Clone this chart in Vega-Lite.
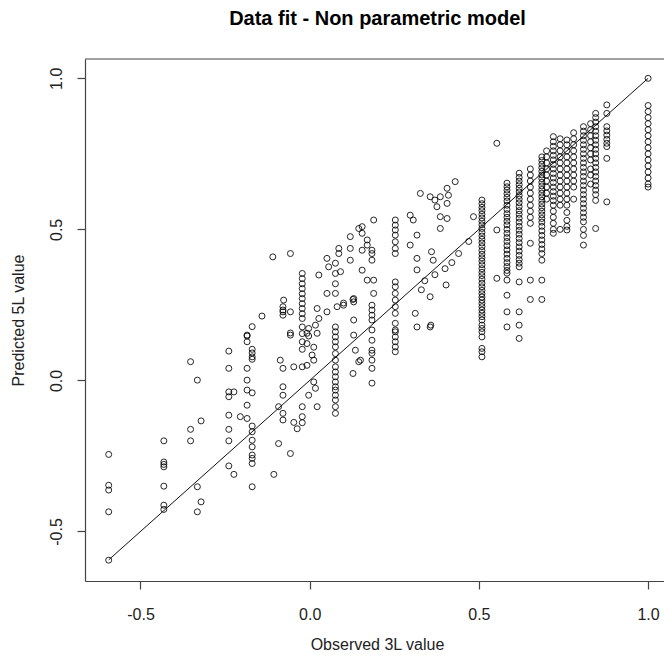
{
"$schema":"https://vega.github.io/schema/vega-lite/v6.json",
"autosize":{"type":"none"},
"padding":{"left":85,"top":59,"right":0,"bottom":80},
"width":579,"height":522,
"background":"white",
"title":{"text":"Data fit - Non parametric model","font":"Liberation Sans","fontSize":20,"fontWeight":"bold","color":"#000","anchor":"middle","frame":"group","baseline":"middle","offset":12,"dx":3,"dy":-7},
"config":{"view":{"stroke":null},"axis":{"grid":false,"domainColor":"#444","tickColor":"#444","domainWidth":1.2,"tickWidth":1.2,"labelFont":"Liberation Sans","titleFont":"Liberation Sans","labelFontSize":16,"titleFontSize":16,"labelColor":"#222","titleColor":"#222","titleFontWeight":"normal","tickSize":8}},
"datasets":{
"pts":[
{"x":-0.594,"y":-0.245},{"x":-0.594,"y":-0.347},{"x":-0.594,"y":-0.363},{"x":-0.594,"y":-0.435},{"x":-0.594,"y":-0.595},
{"x":-0.431,"y":-0.2},{"x":-0.431,"y":-0.27},{"x":-0.431,"y":-0.278},{"x":-0.431,"y":-0.286},{"x":-0.431,"y":-0.35},{"x":-0.431,"y":-0.413},{"x":-0.431,"y":-0.427},
{"x":-0.352,"y":0.062},{"x":-0.352,"y":-0.162},{"x":-0.352,"y":-0.2},
{"x":-0.332,"y":0.001},{"x":-0.332,"y":-0.352},{"x":-0.332,"y":-0.435},
{"x":-0.321,"y":-0.134},{"x":-0.321,"y":-0.402},
{"x":-0.239,"y":0.097},{"x":-0.239,"y":0.04},{"x":-0.239,"y":-0.038},{"x":-0.239,"y":-0.054},{"x":-0.239,"y":-0.115},{"x":-0.239,"y":-0.162},{"x":-0.239,"y":-0.2},{"x":-0.239,"y":-0.283},
{"x":-0.224,"y":-0.038},{"x":-0.224,"y":-0.311},
{"x":-0.205,"y":-0.12},
{"x":-0.185,"y":0.15},{"x":-0.185,"y":0.128},{"x":-0.185,"y":0.147},{"x":-0.185,"y":0.001},{"x":-0.185,"y":-0.032},{"x":-0.185,"y":-0.082},{"x":-0.185,"y":-0.126},{"x":-0.185,"y":0.04},
{"x":-0.17,"y":0.178},{"x":-0.17,"y":0.103},{"x":-0.17,"y":0.091},{"x":-0.17,"y":0.078},{"x":-0.17,"y":0.07},{"x":-0.17,"y":-0.041},{"x":-0.17,"y":-0.151},{"x":-0.17,"y":-0.17},{"x":-0.17,"y":-0.198},{"x":-0.17,"y":-0.22},{"x":-0.17,"y":-0.247},{"x":-0.17,"y":-0.258},{"x":-0.17,"y":-0.275},{"x":-0.17,"y":-0.352},
{"x":-0.141,"y":0.213},
{"x":-0.106,"y":-0.311},{"x":-0.092,"y":-0.209},{"x":-0.092,"y":-0.087},
{"x":-0.057,"y":-0.242},{"x":-0.057,"y":0.42},{"x":-0.057,"y":0.157},{"x":-0.057,"y":0.15},{"x":-0.057,"y":0.227},
{"x":-0.109,"y":0.409},{"x":-0.087,"y":0.067},
{"x":-0.079,"y":0.244},{"x":-0.079,"y":0.227},{"x":-0.079,"y":0.216},{"x":-0.077,"y":0.266},{"x":-0.079,"y":0.233},{"x":-0.079,"y":0.04},{"x":-0.079,"y":-0.021},{"x":-0.079,"y":-0.049},{"x":-0.079,"y":-0.109},{"x":-0.079,"y":-0.131},
{"x":-0.047,"y":0.045},{"x":-0.047,"y":-0.139},{"x":-0.037,"y":-0.16},
{"x":-0.022,"y":0.354},{"x":-0.022,"y":0.337},{"x":-0.022,"y":0.32},{"x":-0.022,"y":0.304},{"x":-0.022,"y":0.287},{"x":-0.022,"y":0.271},{"x":-0.022,"y":0.254},{"x":-0.022,"y":0.238},{"x":-0.022,"y":0.221},{"x":-0.022,"y":0.205},{"x":-0.022,"y":0.177},{"x":-0.022,"y":0.155},{"x":-0.022,"y":0.128},{"x":-0.022,"y":0.103},{"x":-0.022,"y":0.045},{"x":-0.022,"y":-0.087},{"x":-0.022,"y":-0.12},{"x":-0.022,"y":-0.14},
{"x":-0.008,"y":0.156},{"x":-0.008,"y":0.122},{"x":-0.008,"y":0.05},
{"x":-0.003,"y":0.172},{"x":-0.003,"y":-0.049},{"x":-0.003,"y":0.147},
{"x":0.007,"y":0.084},{"x":0.012,"y":0.11},{"x":0.012,"y":0.067},{"x":0.012,"y":-0.005},
{"x":0.017,"y":0.183},{"x":0.017,"y":-0.026},
{"x":0.022,"y":0.156},{"x":0.022,"y":-0.087},{"x":0.022,"y":0.238},
{"x":0.027,"y":0.205},{"x":0.027,"y":0.349},
{"x":0.051,"y":0.227},{"x":0.051,"y":0.288},{"x":0.051,"y":0.404},{"x":0.056,"y":0.376},
{"x":0.076,"y":0.177},{"x":0.076,"y":0.161},{"x":0.076,"y":0.144},{"x":0.076,"y":0.128},{"x":0.076,"y":0.111},{"x":0.076,"y":0.089},{"x":0.076,"y":0.067},{"x":0.076,"y":0.045},{"x":0.076,"y":0.028},{"x":0.076,"y":0.012},{"x":0.076,"y":-0.005},{"x":0.076,"y":-0.021},{"x":0.076,"y":-0.032},{"x":0.076,"y":-0.049},{"x":0.076,"y":-0.065},{"x":0.076,"y":-0.087},{"x":0.076,"y":-0.109},{"x":0.076,"y":0.388},{"x":0.076,"y":0.354},{"x":0.076,"y":0.32},{"x":0.076,"y":0.288},
{"x":0.081,"y":0.244},{"x":0.086,"y":0.437},{"x":0.086,"y":0.42},{"x":0.091,"y":0.36},
{"x":0.1,"y":0.249},{"x":0.1,"y":0.256},
{"x":0.12,"y":0.476},{"x":0.12,"y":0.437},{"x":0.12,"y":0.398},
{"x":0.128,"y":0.268},{"x":0.128,"y":0.023},
{"x":0.13,"y":0.26},{"x":0.13,"y":0.2},{"x":0.13,"y":0.15},{"x":0.13,"y":0.271},
{"x":0.135,"y":0.1},{"x":0.145,"y":0.062},{"x":0.145,"y":0.503},{"x":0.15,"y":0.067},
{"x":0.155,"y":0.509},{"x":0.155,"y":0.487},{"x":0.155,"y":0.431},{"x":0.155,"y":0.365},
{"x":0.17,"y":0.465},{"x":0.17,"y":0.448},{"x":0.17,"y":0.332},
{"x":0.184,"y":0.249},{"x":0.184,"y":0.233},{"x":0.184,"y":0.216},{"x":0.184,"y":0.2},{"x":0.184,"y":0.167},{"x":0.184,"y":0.133},{"x":0.184,"y":0.1},{"x":0.184,"y":0.09},{"x":0.184,"y":0.067},{"x":0.184,"y":0.04},{"x":0.184,"y":-0.009},{"x":0.184,"y":0.42},{"x":0.184,"y":0.431},{"x":0.184,"y":0.398},
{"x":0.189,"y":0.531},{"x":0.189,"y":0.332},{"x":0.189,"y":0.288},
{"x":0.253,"y":0.531},{"x":0.253,"y":0.514},{"x":0.253,"y":0.498},{"x":0.253,"y":0.481},{"x":0.253,"y":0.459},{"x":0.253,"y":0.437},{"x":0.253,"y":0.42},{"x":0.253,"y":0.326},{"x":0.253,"y":0.31},{"x":0.253,"y":0.288},{"x":0.253,"y":0.266},{"x":0.253,"y":0.244},{"x":0.253,"y":0.222},{"x":0.253,"y":0.189},{"x":0.253,"y":0.167},{"x":0.253,"y":0.144},{"x":0.253,"y":0.161},{"x":0.253,"y":0.128},{"x":0.253,"y":0.111},{"x":0.253,"y":0.095},
{"x":0.297,"y":0.547},{"x":0.297,"y":0.448},{"x":0.306,"y":0.531},{"x":0.312,"y":0.222},
{"x":0.317,"y":0.481},{"x":0.317,"y":0.404},{"x":0.317,"y":0.366},{"x":0.317,"y":0.177},
{"x":0.327,"y":0.619},{"x":0.33,"y":0.3},{"x":0.34,"y":0.33},
{"x":0.356,"y":0.608},{"x":0.356,"y":0.277},{"x":0.356,"y":0.177},{"x":0.358,"y":0.183},
{"x":0.36,"y":0.426},{"x":0.365,"y":0.398},{"x":0.37,"y":0.597},{"x":0.376,"y":0.575},{"x":0.37,"y":0.35},
{"x":0.386,"y":0.608},{"x":0.386,"y":0.542},{"x":0.386,"y":0.503},
{"x":0.4,"y":0.37},{"x":0.403,"y":0.316},
{"x":0.406,"y":0.636},{"x":0.406,"y":0.586},{"x":0.406,"y":0.536},{"x":0.41,"y":0.613},
{"x":0.42,"y":0.39},{"x":0.43,"y":0.658},{"x":0.44,"y":0.42},{"x":0.47,"y":0.46},{"x":0.484,"y":0.542},
{"x":0.509,"y":0.597},{"x":0.509,"y":0.585},{"x":0.509,"y":0.573},{"x":0.509,"y":0.562},{"x":0.509,"y":0.55},{"x":0.509,"y":0.538},{"x":0.509,"y":0.527},{"x":0.509,"y":0.515},{"x":0.509,"y":0.503},{"x":0.509,"y":0.49},{"x":0.509,"y":0.478},{"x":0.509,"y":0.467},{"x":0.509,"y":0.455},{"x":0.509,"y":0.443},{"x":0.509,"y":0.43},{"x":0.509,"y":0.418},{"x":0.509,"y":0.406},{"x":0.509,"y":0.395},{"x":0.509,"y":0.383},{"x":0.509,"y":0.37},{"x":0.509,"y":0.358},{"x":0.509,"y":0.347},{"x":0.509,"y":0.335},{"x":0.509,"y":0.322},{"x":0.509,"y":0.31},{"x":0.509,"y":0.298},{"x":0.509,"y":0.287},{"x":0.509,"y":0.276},{"x":0.509,"y":0.266},{"x":0.509,"y":0.255},{"x":0.509,"y":0.244},{"x":0.509,"y":0.233},{"x":0.509,"y":0.222},{"x":0.509,"y":0.211},{"x":0.509,"y":0.2},{"x":0.509,"y":0.183},{"x":0.509,"y":0.172},{"x":0.509,"y":0.161},{"x":0.509,"y":0.144},{"x":0.509,"y":0.106},{"x":0.509,"y":0.095},{"x":0.509,"y":0.078},
{"x":0.553,"y":0.785},{"x":0.553,"y":0.498},{"x":0.553,"y":0.338},
{"x":0.583,"y":0.653},{"x":0.583,"y":0.641},{"x":0.583,"y":0.63},{"x":0.583,"y":0.618},{"x":0.583,"y":0.606},{"x":0.583,"y":0.594},{"x":0.583,"y":0.58},{"x":0.583,"y":0.566},{"x":0.583,"y":0.552},{"x":0.583,"y":0.54},{"x":0.583,"y":0.527},{"x":0.583,"y":0.515},{"x":0.583,"y":0.5},{"x":0.583,"y":0.487},{"x":0.583,"y":0.473},{"x":0.583,"y":0.46},{"x":0.583,"y":0.446},{"x":0.583,"y":0.432},{"x":0.583,"y":0.418},{"x":0.583,"y":0.404},{"x":0.583,"y":0.39},{"x":0.583,"y":0.377},{"x":0.583,"y":0.364},{"x":0.583,"y":0.355},{"x":0.583,"y":0.332},{"x":0.583,"y":0.282},{"x":0.583,"y":0.227},{"x":0.583,"y":0.177},
{"x":0.619,"y":0.686},{"x":0.619,"y":0.672},{"x":0.619,"y":0.66},{"x":0.619,"y":0.648},{"x":0.619,"y":0.636},{"x":0.619,"y":0.624},{"x":0.619,"y":0.612},{"x":0.619,"y":0.6},{"x":0.619,"y":0.588},{"x":0.619,"y":0.575},{"x":0.619,"y":0.562},{"x":0.619,"y":0.55},{"x":0.619,"y":0.537},{"x":0.619,"y":0.524},{"x":0.619,"y":0.51},{"x":0.619,"y":0.497},{"x":0.619,"y":0.484},{"x":0.619,"y":0.47},{"x":0.619,"y":0.456},{"x":0.619,"y":0.442},{"x":0.619,"y":0.428},{"x":0.619,"y":0.414},{"x":0.619,"y":0.4},{"x":0.619,"y":0.388},{"x":0.619,"y":0.376},{"x":0.619,"y":0.326},{"x":0.619,"y":0.227},{"x":0.619,"y":0.183},{"x":0.619,"y":0.139},
{"x":0.652,"y":0.454},{"x":0.652,"y":0.332},{"x":0.652,"y":0.268},{"x":0.652,"y":0.7},{"x":0.652,"y":0.68},{"x":0.652,"y":0.66},{"x":0.652,"y":0.64},{"x":0.652,"y":0.62},{"x":0.652,"y":0.6},{"x":0.652,"y":0.58},{"x":0.652,"y":0.56},{"x":0.652,"y":0.54},{"x":0.652,"y":0.52},
{"x":0.686,"y":0.74},{"x":0.686,"y":0.728},{"x":0.686,"y":0.716},{"x":0.686,"y":0.704},{"x":0.686,"y":0.692},{"x":0.686,"y":0.68},{"x":0.686,"y":0.668},{"x":0.686,"y":0.656},{"x":0.686,"y":0.644},{"x":0.686,"y":0.632},{"x":0.686,"y":0.62},{"x":0.686,"y":0.608},{"x":0.686,"y":0.596},{"x":0.686,"y":0.584},{"x":0.686,"y":0.572},{"x":0.686,"y":0.56},{"x":0.686,"y":0.548},{"x":0.686,"y":0.536},{"x":0.686,"y":0.524},{"x":0.686,"y":0.51},{"x":0.686,"y":0.495},{"x":0.686,"y":0.48},{"x":0.686,"y":0.465},{"x":0.686,"y":0.45},{"x":0.686,"y":0.435},{"x":0.686,"y":0.42},{"x":0.686,"y":0.398},{"x":0.686,"y":0.332},{"x":0.686,"y":0.268},
{"x":0.7,"y":0.76},{"x":0.7,"y":0.74},{"x":0.7,"y":0.72},{"x":0.7,"y":0.7},{"x":0.7,"y":0.68},{"x":0.7,"y":0.66},{"x":0.7,"y":0.64},{"x":0.7,"y":0.62},{"x":0.7,"y":0.6},
{"x":0.72,"y":0.807},{"x":0.72,"y":0.79},{"x":0.72,"y":0.775},{"x":0.72,"y":0.76},{"x":0.72,"y":0.745},{"x":0.72,"y":0.73},{"x":0.72,"y":0.715},{"x":0.72,"y":0.7},{"x":0.72,"y":0.685},{"x":0.72,"y":0.67},{"x":0.72,"y":0.655},{"x":0.72,"y":0.64},{"x":0.72,"y":0.625},{"x":0.72,"y":0.61},{"x":0.72,"y":0.595},{"x":0.72,"y":0.58},{"x":0.72,"y":0.56},{"x":0.72,"y":0.54},{"x":0.72,"y":0.52},{"x":0.72,"y":0.5},{"x":0.72,"y":0.487},
{"x":0.74,"y":0.8},{"x":0.74,"y":0.78},{"x":0.74,"y":0.76},{"x":0.74,"y":0.74},{"x":0.74,"y":0.72},{"x":0.74,"y":0.7},{"x":0.74,"y":0.68},{"x":0.74,"y":0.66},{"x":0.74,"y":0.64},{"x":0.74,"y":0.62},{"x":0.74,"y":0.6},{"x":0.74,"y":0.58},{"x":0.74,"y":0.5},
{"x":0.76,"y":0.796},{"x":0.76,"y":0.78},{"x":0.76,"y":0.76},{"x":0.76,"y":0.74},{"x":0.76,"y":0.72},{"x":0.76,"y":0.7},{"x":0.76,"y":0.68},{"x":0.76,"y":0.66},{"x":0.76,"y":0.64},{"x":0.76,"y":0.62},{"x":0.76,"y":0.6},{"x":0.76,"y":0.58},{"x":0.76,"y":0.556},{"x":0.76,"y":0.53},{"x":0.76,"y":0.51},{"x":0.76,"y":0.498},
{"x":0.78,"y":0.82},{"x":0.78,"y":0.8},{"x":0.78,"y":0.78},{"x":0.78,"y":0.76},{"x":0.78,"y":0.74},{"x":0.78,"y":0.72},{"x":0.78,"y":0.7},{"x":0.78,"y":0.68},{"x":0.78,"y":0.66},{"x":0.78,"y":0.64},{"x":0.78,"y":0.6},
{"x":0.809,"y":0.84},{"x":0.809,"y":0.825},{"x":0.809,"y":0.81},{"x":0.809,"y":0.795},{"x":0.809,"y":0.78},{"x":0.809,"y":0.765},{"x":0.809,"y":0.75},{"x":0.809,"y":0.735},{"x":0.809,"y":0.72},{"x":0.809,"y":0.705},{"x":0.809,"y":0.69},{"x":0.809,"y":0.675},{"x":0.809,"y":0.66},{"x":0.809,"y":0.645},{"x":0.809,"y":0.63},{"x":0.809,"y":0.615},{"x":0.809,"y":0.6},{"x":0.809,"y":0.585},{"x":0.809,"y":0.57},{"x":0.809,"y":0.555},{"x":0.809,"y":0.54},{"x":0.809,"y":0.525},{"x":0.809,"y":0.5},{"x":0.809,"y":0.48},{"x":0.809,"y":0.448},
{"x":0.83,"y":0.85},{"x":0.83,"y":0.83},{"x":0.83,"y":0.81},{"x":0.83,"y":0.79},{"x":0.83,"y":0.77},{"x":0.83,"y":0.75},{"x":0.83,"y":0.73},{"x":0.83,"y":0.7},{"x":0.83,"y":0.68},{"x":0.83,"y":0.65},
{"x":0.845,"y":0.884},{"x":0.845,"y":0.87},{"x":0.845,"y":0.855},{"x":0.845,"y":0.84},{"x":0.845,"y":0.825},{"x":0.845,"y":0.81},{"x":0.845,"y":0.795},{"x":0.845,"y":0.78},{"x":0.845,"y":0.765},{"x":0.845,"y":0.75},{"x":0.845,"y":0.735},{"x":0.845,"y":0.72},{"x":0.845,"y":0.705},{"x":0.845,"y":0.69},{"x":0.845,"y":0.675},{"x":0.845,"y":0.66},{"x":0.845,"y":0.645},{"x":0.845,"y":0.63},{"x":0.845,"y":0.615},{"x":0.845,"y":0.596},{"x":0.845,"y":0.503},
{"x":0.878,"y":0.912},{"x":0.878,"y":0.884},{"x":0.878,"y":0.84},{"x":0.878,"y":0.826},{"x":0.878,"y":0.812},{"x":0.878,"y":0.798},{"x":0.878,"y":0.785},{"x":0.878,"y":0.774},{"x":0.878,"y":0.735},{"x":0.878,"y":0.591},
{"x":1.0,"y":1.0},{"x":1.0,"y":0.91},{"x":1.0,"y":0.89},{"x":1.0,"y":0.87},{"x":1.0,"y":0.85},{"x":1.0,"y":0.83},{"x":1.0,"y":0.81},{"x":1.0,"y":0.79},{"x":1.0,"y":0.77},{"x":1.0,"y":0.75},{"x":1.0,"y":0.73},{"x":1.0,"y":0.71},{"x":1.0,"y":0.69},{"x":1.0,"y":0.67},{"x":1.0,"y":0.65},{"x":1.0,"y":0.64}
],
"fit":[{"x":-0.594,"y":-0.594},{"x":1.0,"y":1.0}],
"top":[{"y":1.064}]
},
"layer":[
{"data":{"name":"top"},"mark":{"type":"rule","color":"#444","strokeWidth":1.2},"encoding":{"y":{"field":"y","type":"quantitative"}}},
{"data":{"name":"fit"},"mark":{"type":"line","color":"#111","strokeWidth":1},"encoding":{"x":{"field":"x","type":"quantitative"},"y":{"field":"y","type":"quantitative"}}},
{"data":{"name":"pts"},"mark":{"type":"point","shape":"circle","filled":false,"size":36,"color":"#000","strokeWidth":1,"opacity":0.85},
"encoding":{
"x":{"field":"x","type":"quantitative","scale":{"domain":[-0.664,1.047],"nice":false,"zero":false},
"axis":{"values":[-0.5,0,0.5,1],"labelExpr":"datum.value < 0 ? '-' + format(-datum.value, '.1f') : format(datum.value, '.1f')","title":"Observed 3L value","labelBaseline":"middle","labelPadding":25,"titleX":292,"titleY":63,"titleBaseline":"middle","titleAlign":"center","labelFlush":false,"labelOverlap":false}},
"y":{"field":"y","type":"quantitative","scale":{"domain":[-0.664,1.064],"nice":false,"zero":false},
"axis":{"values":[-0.5,0,0.5,1],"labelExpr":"datum.value < 0 ? '-' + format(-datum.value, '.1f') : format(datum.value, '.1f')","title":"Predicted 5L value","labelAngle":270,"labelAlign":"center","labelBaseline":"middle","labelPadding":21,"titleX":-67,"titleY":261,"titleAngle":270,"titleBaseline":"middle","titleAlign":"center","labelFlush":false,"labelOverlap":false}}
}}
]
}
